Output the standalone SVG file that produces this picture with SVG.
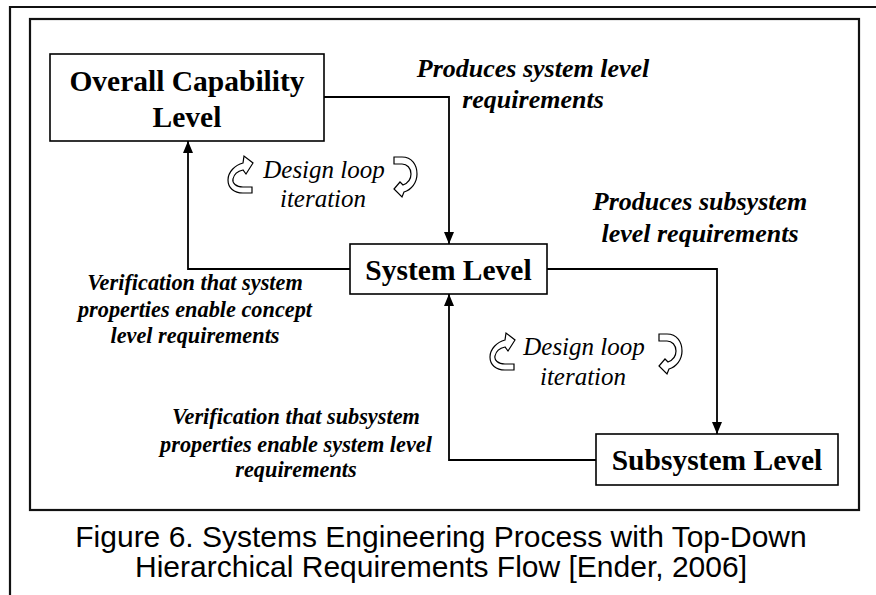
<svg xmlns="http://www.w3.org/2000/svg" width="876" height="595" viewBox="0 0 876 595">
<defs>
<style>
.box{fill:#fff;stroke:#000;stroke-width:1.6}
.frame{fill:none;stroke:#111;stroke-width:2.2}
.conn{fill:none;stroke:#000;stroke-width:1.8}
.node{font-family:"Liberation Serif","Times New Roman",serif;font-weight:bold;font-size:29.5px;text-anchor:middle;fill:#000}
.lbl{font-family:"Liberation Serif","Times New Roman",serif;font-weight:bold;font-style:italic;text-anchor:middle;fill:#000}
.big{font-size:26px}
.small{font-size:22.3px}
.loop{font-family:"Liberation Serif","Times New Roman",serif;font-style:italic;font-size:25px;text-anchor:middle;fill:#000}
.cap{font-family:"Liberation Sans",Arial,sans-serif;font-size:30px;text-anchor:middle;fill:#000}
.icon{fill:#fff;stroke:#000;stroke-width:1.2;stroke-linejoin:miter}
</style>
<marker id="arr" markerUnits="userSpaceOnUse" markerWidth="12" markerHeight="12" viewBox="0 0 12 10" refX="12" refY="5" orient="auto">
<path d="M0,0 L12,5 L0,10 Z" fill="#000"/>
</marker>
<path id="loopL" class="icon" d="M252,187 L243,187 C236,187 232,183 233,179 C234,174 238,171 243,170 L246,174 L253,163 L244,156 L243,163 C235,165 228,172 228,180 C228,188 234,193 243,193 L252,193 Z"/>
<path id="loopR" class="icon" d="M394,157 L402,157 C412,157 417,165 417,174 C417,183 411,190 404,192 L402,197 L394,189 L400,182 L403,185 C408,183 411,179 411,174 C411,168 407,164 402,164 L394,164 Z"/>
</defs>
<rect width="876" height="595" fill="#fff"/>
<g id="frame">
<path class="frame" d="M10,595 V7 H876"/>
<rect class="frame" x="30" y="19" width="829" height="491"/>
</g>
<g id="connectors">
<path class="conn" d="M324,97 H449 V244" marker-end="url(#arr)"/>
<path class="conn" d="M350,269 H188 V141" marker-end="url(#arr)"/>
<path class="conn" d="M547,269 H717 V434" marker-end="url(#arr)"/>
<path class="conn" d="M596,460 H449 V294" marker-end="url(#arr)"/>
</g>
<g id="overall">
<rect class="box" x="50" y="54" width="274" height="87"/>
<text class="node" x="187" y="91">Overall Capability</text>
<text class="node" x="187" y="127">Level</text>
</g>
<g id="system">
<rect class="box" x="350" y="244" width="197" height="50"/>
<text class="node" x="448.5" y="280">System Level</text>
</g>
<g id="subsystem">
<rect class="box" x="596" y="434" width="242" height="51"/>
<text class="node" x="717" y="470">Subsystem Level</text>
</g>
<g id="labels">
<text class="lbl big" x="533" y="77">Produces system level</text>
<text class="lbl big" x="533" y="108">requirements</text>
<text class="lbl big" x="700" y="210">Produces subsystem</text>
<text class="lbl big" x="700" y="242">level requirements</text>
<text class="lbl small" x="195" y="290">Verification that system</text>
<text class="lbl small" x="195" y="317">properties enable concept</text>
<text class="lbl small" x="195" y="343">level requirements</text>
<text class="lbl small" x="296" y="424">Verification that subsystem</text>
<text class="lbl small" x="296" y="452">properties enable system level</text>
<text class="lbl small" x="296" y="477">requirements</text>
</g>
<g id="loop1">
<use href="#loopL"/>
<use href="#loopR"/>
<text class="loop" x="324" y="178">Design loop</text>
<text class="loop" x="323" y="207">iteration</text>
</g>
<g id="loop2">
<use href="#loopL" transform="translate(262,177)"/>
<use href="#loopR" transform="translate(265,177)"/>
<text class="loop" x="584" y="355">Design loop</text>
<text class="loop" x="583" y="385">iteration</text>
</g>
<g id="caption">
<text class="cap" x="441" y="547">Figure 6. Systems Engineering Process with Top-Down</text>
<text class="cap" x="441" y="577">Hierarchical Requirements Flow [Ender, 2006]</text>
</g>
</svg>
